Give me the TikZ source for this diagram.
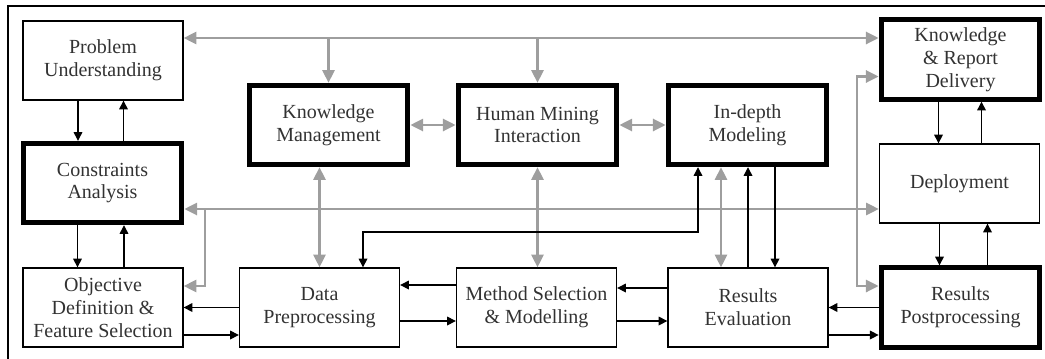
\documentclass[tikz,border=0pt]{standalone}
\usepackage{fontspec}
\setmainfont{Liberation Serif}
\usepackage{tikz}
\usetikzlibrary{arrows.meta,calc}
\definecolor{flowgray}{RGB}{158,158,158}
\definecolor{textgray}{RGB}{50,50,50}

\begin{document}
\begin{tikzpicture}[x=0.75pt,y=-0.75pt,
  stage/.style={draw, line width=1pt, align=center, text=textgray, inner sep=0pt,
    minimum width=120pt, minimum height=59.25pt, font=\fontsize{15}{17.2}\selectfont},
  keystage/.style={stage, line width=3.8pt, minimum width=119pt, minimum height=59.5pt},
  garr/.style={flowgray, line width=2pt, >={Triangle[length=9.5pt,width=9pt]}},
  barr/.style={black, line width=0.9pt, >={Triangle[length=6.5pt,width=6.5pt]}}]
\useasboundingbox (0,0) rectangle (1045,358);
% Outer frame
\draw[line width=1pt] (8,362) -- (8,6) -- (1049,6);

% Stages
\node[stage] (pu) at (103,60.5) {Problem\\Understanding};
\node[keystage] (ca) at (102.5,183) {Constraints\\Analysis};
\node[stage] (od) at (103,307.5) {Objective\\Definition \&\\Feature Selection};
\node[stage] (dp) at (319.5,307.5) {Data\\Preprocessing};
\node[stage] (ms) at (536.5,307.5) {Method Selection\\\& Modelling};
\node[stage] (re) at (748,307.5) {Results\\Evaluation};
\node[keystage] (rp) at (960.5,307.5) {Results\\Postprocessing};
\node[keystage] (km) at (328.5,125) {Knowledge\\Management};
\node[keystage] (hmi) at (537.5,125) {Human Mining\\Interaction};
\node[keystage] (idm) at (747.5,125) {In-depth\\Modeling};
\node[keystage] (krd) at (960.5,59.5) {Knowledge\\\& Report\\Delivery};
\node[stage] (dep) at (959.5,183.5) {Deployment};

% Bus points
\coordinate (topbus) at (0,38);
\coordinate (midbus) at (0,209);
\coordinate (midjoint) at (205,209);
\coordinate (odin) at (0,286);
\coordinate (loop) at (698,232);
\coordinate (rightbus) at (857,286);

% Gray links
\draw[garr,<->] (pu.east |- topbus) -- (krd.west |- topbus);
\draw[garr,->] (km.north |- topbus) -- (km.north);
\draw[garr,->] (hmi.north |- topbus) -- (hmi.north);
\draw[garr,<->] (ca.east |- midbus) -- (dep.west |- midbus);
\draw[garr,->] (midjoint) |- (od.east |- odin);
\draw[garr,<->] (km.east) -- (km.east -| hmi.west);
\draw[garr,<->] (hmi.east) -- (hmi.east -| idm.west);
\draw[garr,<->] (km.south -| dp.north) -- (dp.north);
\draw[garr,<->] (hmi.south) -- (hmi.south |- ms.north);
\draw[garr,<->] ($(idm.south)+(-26.5,0)$) -- ($(re.north)+(-27,0)$);
\draw[garr,<->] ($(krd.west)+(0,17)$) -| (rightbus) -- (rp.west |- rightbus);

% Black links round In-depth Modeling
\draw[barr,<->] ($(dp.north)+(43.5,0)$) |- (loop) -- (loop |- idm.south);
\draw[barr,->] (re.north) -- (re.north |- idm.south);
\draw[barr,->] ($(idm.south)+(27.5,0)$) -- ($(re.north)+(27,0)$);

% Up and down pairs
\foreach \a/\b/\l/\r in {pu/ca/-25/21, ca/od/-25/21, krd/dep/-22/22, dep/rp/-20/27} {
  \path ($(\a.south)+(\l,0)$) coordinate (s1) ($(\b.north)+(\r,0)$) coordinate (s2);
  \draw[barr,->] (s1) -- (s1 |- \b.north);
  \draw[barr,->] (s2) -- (s2 |- \a.south);
}

% Left and right pairs
\foreach \a/\b/\u/\d in {od/dp/0/27.5, dp/ms/-22.5/13.5, ms/re/-19.5/13.5, re/rp/0/27.5} {
  \draw[barr,->] ($(\b.west)+(0,\u)$) -- ($(\a.east)+(0,\u)$);
  \draw[barr,->] ($(\a.east)+(0,\d)$) -- ($(\b.west)+(0,\d)$);
}
\end{tikzpicture}
\end{document}
